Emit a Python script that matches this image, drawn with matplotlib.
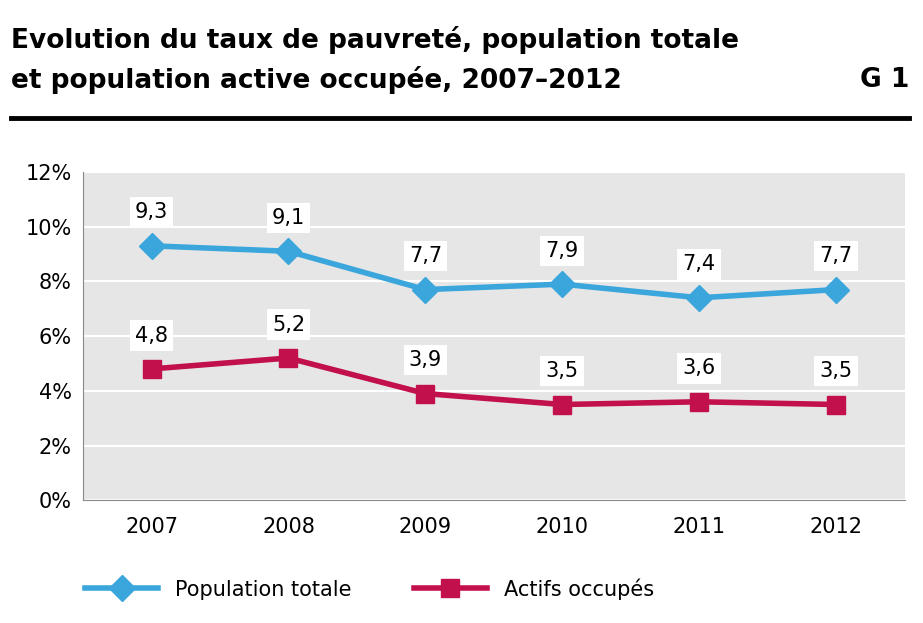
import matplotlib.pyplot as plt

years = ['2007', '2008', '2009', '2010', '2011', '2012']
pop_totale = [9.3, 9.1, 7.7, 7.9, 7.4, 7.7]
actifs = [4.8, 5.2, 3.9, 3.5, 3.6, 3.5]

blue = '#3ba6dc'
red = '#c1104b'

fig = plt.figure(figsize=(9.23, 6.23), dpi=100)
fig.text(0.012, 0.936, 'Evolution du taux de pauvreté, population totale',
         fontsize=19, fontweight='bold', va='center')
fig.text(0.012, 0.871, 'et population active occupée, 2007–2012',
         fontsize=19, fontweight='bold', va='center')
fig.text(0.985, 0.871, 'G 1', fontsize=19, fontweight='bold', va='center', ha='right')
fig.add_artist(plt.Line2D([0.012, 0.985], [0.81, 0.81], color='black', lw=3.5))

ax = fig.add_axes([0.09, 0.197, 0.89, 0.527])
ax.set_facecolor('#e6e6e6')
x = range(len(years))
ax.plot(x, pop_totale, color=blue, lw=4, marker='D', ms=13, label='Population totale')
ax.plot(x, actifs, color=red, lw=4, marker='s', ms=13, label='Actifs occupés')
for series in (pop_totale, actifs):
    for i, v in zip(x, series):
        ax.annotate(f'{v:.1f}'.replace('.', ','), (i, v), xytext=(0, 24),
                    textcoords='offset points', ha='center', va='center', fontsize=15,
                    bbox=dict(boxstyle='square,pad=0.25', fc='white', ec='none'))

ax.set_ylim(0, 12)
ax.set_xlim(-0.5, 5.5)
ax.set_yticks(range(0, 13, 2))
ax.set_yticklabels([f'{t}%' for t in range(0, 13, 2)], fontsize=15)
ax.set_xticks(list(x))
ax.set_xticklabels(years, fontsize=15)
ax.grid(axis='y', color='white', lw=1.5)
ax.set_axisbelow(True)
for s in ['top', 'right']:
    ax.spines[s].set_visible(False)
ax.spines['left'].set_color('#888888')
ax.spines['bottom'].set_color('#888888')
ax.tick_params(axis='y', length=0, pad=8)
ax.tick_params(axis='x', length=0, pad=12)
ax.legend(loc='upper left', bbox_to_anchor=(-0.02, -0.18), ncol=2, frameon=False,
          fontsize=15, handlelength=3.5, columnspacing=3)

fig.savefig('out.png', dpi=100)
